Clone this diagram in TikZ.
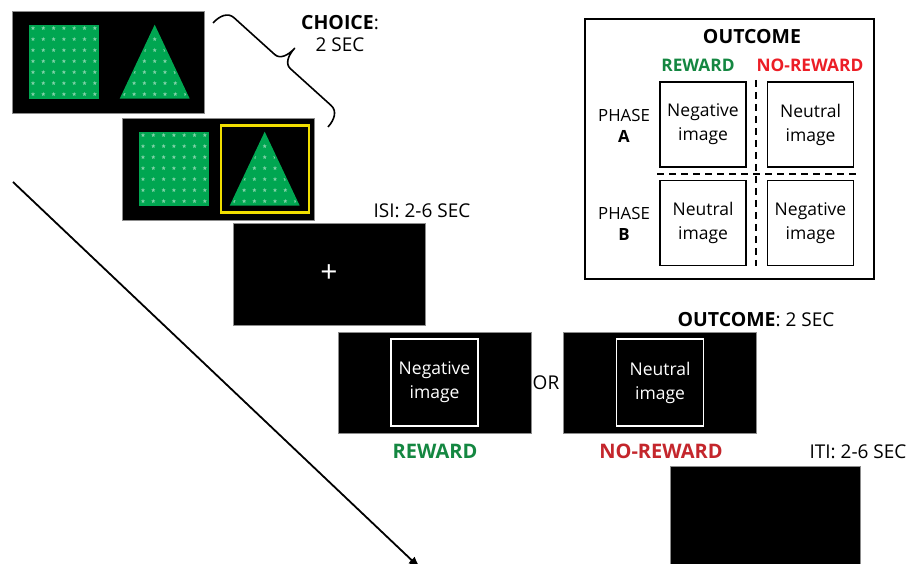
\documentclass[tikz,border=0pt]{standalone}
\usepackage{fontspec}
\setmainfont{Open Sans}
\usetikzlibrary{arrows.meta,shapes.geometric,positioning}
\definecolor{stimgreen}{RGB}{0,166,81}
\definecolor{rewgreen}{RGB}{20,135,65}
\definecolor{norewred}{RGB}{196,38,44}
\definecolor{boxred}{RGB}{236,30,38}
\definecolor{selyellow}{RGB}{240,222,0}
\tikzset{%
	>={Latex[length=13pt,width=9pt]},
	screen/.style={rectangle, fill=black, draw=black!45, line width=0.6pt, minimum width=192pt, minimum height=102pt, inner sep=0pt},
	imgbox/.style={rectangle, draw=white, line width=1.6pt, minimum width=87pt, minimum height=87pt, align=center, text=white, font=\fontsize{17.5}{24}\selectfont},
	cell/.style={rectangle, draw=black, line width=1.7pt, minimum width=86pt, minimum height=85pt, align=center, font=\fontsize{17.5}{24}\selectfont},
	lbl/.style={font=\fontsize{19}{22}\selectfont, inner sep=0pt},
	boldlbl/.style={font=\fontsize{17.3}{20}\selectfont\bfseries, inner sep=0pt},
	sep/.style={dash pattern=on 7pt off 5pt, line width=2.2pt},
	starfill/.style={fill=white!50!stimgreen}
}
% small star on the green stimuli
\newcommand{\starmark}[2]{%
	\fill[starfill, shift={(#1,#2)}] plot[samples at={0,...,9}] ({270+36*\x}:{ifthenelse(mod(\x,2)==0,2.2,0.9)}) -- cycle;}
% square and triangle inside a screen
\newcommand{\stimpair}[1]{%
	\begin{scope}[shift={(#1.north west)}]
		\fill[stimgreen] (17,14) rectangle (87,88);
		\foreach \i in {0,...,6} \foreach \j in {0,...,6} {\starmark{21.3+10.3*\i}{17.5+11*\j}}
		\fill[stimgreen] (108,88) -- (143,14) -- (178,88) -- cycle;
		\begin{scope}
			\clip (110.5,86.5) -- (143,18.5) -- (175.5,86.5) -- cycle;
			\foreach \i in {-3,...,3} \foreach \j in {0,...,6} {\starmark{143+10.3*\i}{17.5+11*\j}}
		\end{scope}
	\end{scope}}

\begin{document}
\begin{tikzpicture}[x=1pt, y=-1pt]
\path[fill=white] (0,0) rectangle (908,564);
\useasboundingbox (0,0) rectangle (908,564);

% trial sequence
\node (s_choice) [screen] at (108,62) {};
\node (s_select) [screen] at (218,169) {};
\node (s_isi) [screen] at (329,274) {};
\node (s_rew) [screen, minimum width=193pt, minimum height=101pt] at (434.5,382.5) {};
\node (s_norew) [screen, minimum width=193pt, minimum height=101pt] at (660,382.5) {};
\node (s_iti) [screen, minimum width=190pt] at (765,517) {};

\stimpair{s_choice}
\stimpair{s_select}
\draw[selyellow, line width=2.4pt] ([shift={(99,8)}]s_select.north west) rectangle ([shift={(187,95)}]s_select.north west);

\node (fix) [text=white, font=\fontsize{30}{30}\selectfont, inner sep=0pt] at (s_isi) {+};
\node (img_neg) [imgbox] at (s_rew) {Negative\\image};
\node (img_neu) [imgbox] at (s_norew) {Neutral\\image};

\node (t_choice) [lbl, align=center] at (340,34) {\textbf{\fontsize{19.5}{22}\selectfont CHOICE}:\\2 SEC};
\node (t_isi) [lbl] at (422,211) {ISI: 2-6 SEC};
\node (t_out) [lbl] at (756,320) {\textbf{\fontsize{19.5}{22}\selectfont OUTCOME}: 2 SEC};
\node (t_or) [lbl] at (546,383) {OR};
\node (t_rew) [boldlbl, font=\fontsize{20}{22}\selectfont\bfseries, text=rewgreen] at (435,451) {REWARD};
\node (t_norew) [boldlbl, font=\fontsize{20}{22}\selectfont\bfseries, text=norewred] at (661,451) {NO-REWARD};
\node (t_iti) [lbl] at (858,452) {ITI: 2-6 SEC};

% time arrow and brace
\coordinate (arr_start) at (13,182);
\coordinate (arr_end) at (421,569);
\draw[->, line width=1.8pt] (arr_start) -- (arr_end);
\coordinate (br_start) at (213,23);
\coordinate (br_end) at (328,127);
\begin{scope}[shift={(br_start)}, rotate=-42.1, x=1pt, y=1pt]
	\draw[line width=1.6pt, line join=round] (0,0) .. controls (0,10) and (4,18) .. (12,18) -- (67,18)
		.. controls (74,18) and (77.5,26) .. (77.5,36) .. controls (77.5,26) and (81,18) .. (88,18) -- (143,18)
		.. controls (151,18) and (155,10) .. (br_end);
\end{scope}

% outcome design panel
\node (panel) [rectangle, draw=black, line width=2pt, minimum width=289pt, minimum height=260pt] at (729.5,149) {};
\node (p_title) [boldlbl, font=\fontsize{19.5}{22}\selectfont\bfseries] at (752,37) {OUTCOME};
\node (p_rew) [boldlbl, text=rewgreen] at (698,65) {REWARD};
\node (p_norew) [boldlbl, text=boxred] at (810,65) {NO-REWARD};
\node (c_a_rew) [cell] at (703,124.5) {Negative\\image};
\node (c_a_norew) [cell] at (810.5,124.5) {Neutral\\image};
\node (c_b_rew) [cell] at (703,223) {Neutral\\image};
\node (c_b_norew) [cell] at (810.5,223) {Negative\\image};
\node (ph_a) [lbl, font=\fontsize{16.8}{21}\selectfont, align=center] at (624,126) {PHASE\\\textbf{A}};
\node (ph_b) [lbl, font=\fontsize{16.8}{21}\selectfont, align=center] at (624,224) {PHASE\\\textbf{B}};
\coordinate (v_top) at (756,80);
\coordinate (v_bot) at (756,266);
\coordinate (h_left) at (657,174);
\coordinate (h_right) at (857,174);
\draw[sep] (v_top) -- (v_bot);
\draw[sep] (h_left) -- (h_right);

\end{tikzpicture}
\end{document}
